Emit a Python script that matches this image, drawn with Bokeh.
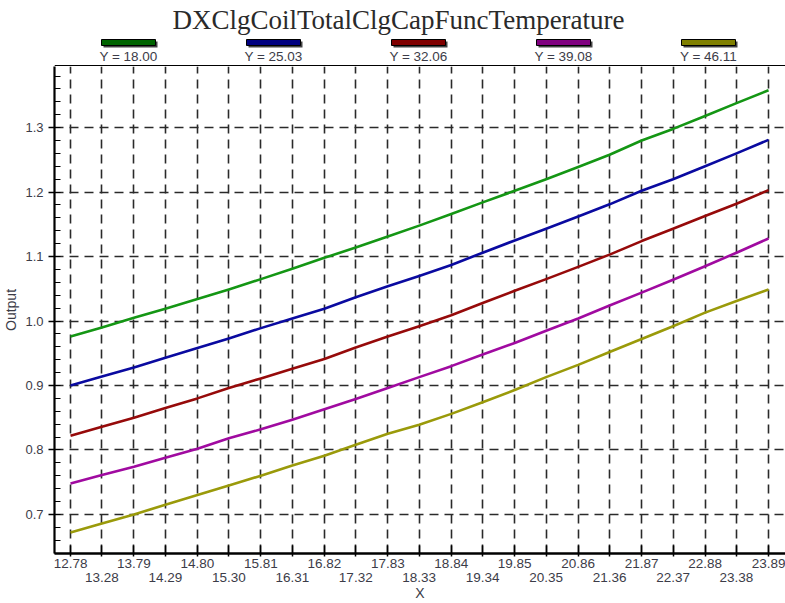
from bokeh.plotting import figure
from bokeh.layouts import column
from bokeh.models import Range1d, FixedTicker, LinearAxis, PrintfTickFormatter
from bokeh.core.properties import value
from bokeh.embed import file_html
from bokeh.resources import INLINE

# ---- data -------------------------------------------------------------
chart_title = "DXClgCoilTotalClgCapFuncTemperature"
series_names = ["Y = 18.00", "Y = 25.03", "Y = 32.06", "Y = 39.08", "Y = 46.11"]
line_colors = ["#149614", "#0a0aa0", "#960a0a", "#a00aa0", "#9a9a0a"]
swatch_colors = ["#006400", "#000080", "#800000", "#800080", "#808000"]

x_tick_labels = ["12.78", "13.28", "13.79", "14.29", "14.80", "15.30", "15.81",
                 "16.31", "16.82", "17.32", "17.83", "18.33", "18.84", "19.34",
                 "19.85", "20.35", "20.86", "21.36", "21.87", "22.37", "22.88",
                 "23.38", "23.89"]
y_ticks = [0.7, 0.8, 0.9, 1.0, 1.1, 1.2, 1.3]

# curve values at each x tick
x_vals = [float(s) for s in x_tick_labels]
y_18 = [0.976, 0.990, 1.005, 1.019, 1.034, 1.049, 1.065, 1.081, 1.098, 1.114, 1.131, 1.148,
        1.166, 1.184, 1.202, 1.220, 1.239, 1.258, 1.280, 1.298, 1.318, 1.338, 1.358]
y_25 = [0.900, 0.914, 0.928, 0.943, 0.958, 0.973, 0.989, 1.004, 1.019, 1.037, 1.054, 1.070,
        1.087, 1.106, 1.125, 1.143, 1.162, 1.181, 1.202, 1.220, 1.240, 1.260, 1.281]
y_32 = [0.822, 0.836, 0.850, 0.865, 0.880, 0.896, 0.911, 0.926, 0.941, 0.959, 0.976, 0.992,
        1.009, 1.028, 1.047, 1.065, 1.084, 1.103, 1.124, 1.143, 1.163, 1.182, 1.203]
y_39 = [0.748, 0.761, 0.774, 0.788, 0.802, 0.818, 0.832, 0.847, 0.863, 0.879, 0.896, 0.913,
        0.930, 0.948, 0.966, 0.985, 1.004, 1.024, 1.044, 1.064, 1.085, 1.106, 1.128]
y_46 = [0.672, 0.686, 0.700, 0.715, 0.730, 0.745, 0.760, 0.776, 0.791, 0.808, 0.825, 0.839,
        0.856, 0.874, 0.893, 0.913, 0.932, 0.952, 0.972, 0.992, 1.013, 1.031, 1.049]
series = [y_18, y_25, y_32, y_39, y_46]

SANS = "Liberation Sans"
LABEL_COLOR = "#3c3c48"
FRAME_LEFT = 54
CANVAS_W = 785

# ---- header: title and legend row -------------------------------------
header = figure(width=CANVAS_W, height=66, x_range=Range1d(FRAME_LEFT, CANVAS_W),
                y_range=Range1d(66, 0), x_axis_type=None, y_axis_type=None,
                output_backend="svg", toolbar_location=None, min_border=0,
                min_border_left=FRAME_LEFT)
header.grid.visible = False
header.outline_line_color = None

header.text(x=[398], y=[19], text=[chart_title], text_font=value("Liberation Serif"),
            text_font_size="27px", text_align="center", text_baseline="middle",
            text_color="#2a2a2a")

sw_x = [128 + 145 * i for i in range(len(series_names))]
header.rect(x=[v + 2 for v in sw_x], y=[44] * len(sw_x), width=54, height=6,
            fill_color="#444444", line_color=None)
header.rect(x=sw_x, y=[42] * len(sw_x), width=54, height=6,
            fill_color=swatch_colors, line_color="black", line_width=1)
header.text(x=sw_x, y=[55.5] * len(sw_x), text=series_names, text_font=value(SANS),
            text_font_size="13.5px", text_align="center", text_baseline="middle",
            text_color=LABEL_COLOR)
header.segment(x0=[FRAME_LEFT], y0=[65.2], x1=[CANVAS_W], y1=[65.2],
               line_color="black", line_width=1.6)

# ---- main plot ----------------------------------------------------------
even_ticks = x_vals[0::2]
odd_ticks = x_vals[1::2]

p = figure(width=CANVAS_W, height=537, x_range=Range1d(12.525, 24.16),
           y_range=Range1d(0.6394, 1.3948), output_backend="svg",
           toolbar_location=None, min_border_left=FRAME_LEFT, min_border_top=0,
           min_border_right=0, min_border_bottom=0)
p.outline_line_color = None
p.background_fill_color = "white"

for ys, col in zip(series, line_colors):
    p.line(x_vals, ys, line_color=col, line_width=2.6, line_join="round")

# bottom axis: ticks at every position, labels on the first row
xa = p.xaxis[0]
xa.ticker = FixedTicker(ticks=even_ticks, minor_ticks=odd_ticks)
xa.formatter = PrintfTickFormatter(format="%.2f")
xa.axis_line_color = "black"
xa.axis_line_width = 2.4
xa.major_tick_line_color = "black"
xa.minor_tick_line_color = "black"
xa.major_tick_line_width = 1.5
xa.minor_tick_line_width = 1.5
xa.major_tick_in = 8
xa.major_tick_out = 3
xa.minor_tick_in = 8
xa.minor_tick_out = 3
xa.major_label_standoff = 2
xa.major_label_text_font = SANS
xa.major_label_text_font_size = "13.5px"
xa.major_label_text_color = LABEL_COLOR

# second label row for the alternate ticks, carrying the axis title
xb = LinearAxis(ticker=FixedTicker(ticks=odd_ticks, minor_ticks=[]),
                formatter=PrintfTickFormatter(format="%.2f"),
                axis_line_color=None, major_tick_line_color=None,
                minor_tick_line_color=None, major_tick_in=0, major_tick_out=0,
                major_label_standoff=2, major_label_text_font=SANS,
                major_label_text_font_size="13.5px", major_label_text_color=LABEL_COLOR,
                axis_label="X", axis_label_standoff=0, axis_label_text_font=SANS,
                axis_label_text_font_size="14px", axis_label_text_font_style="normal",
                axis_label_text_color=LABEL_COLOR)
p.add_layout(xb, "below")

ya = p.yaxis[0]
ya.ticker = FixedTicker(ticks=y_ticks,
                        minor_ticks=[round(0.64 + 0.02 * i, 2) for i in range(38)])
ya.formatter = PrintfTickFormatter(format="%.1f")
ya.axis_line_color = "black"
ya.axis_line_width = 2.2
ya.major_tick_line_color = "black"
ya.minor_tick_line_color = "black"
ya.major_tick_line_width = 1.5
ya.minor_tick_line_width = 1.2
ya.major_tick_in = 0
ya.major_tick_out = 6
ya.minor_tick_in = 6
ya.minor_tick_out = 0
ya.major_label_standoff = 5
ya.major_label_text_font = SANS
ya.major_label_text_font_size = "13px"
ya.major_label_text_color = LABEL_COLOR
ya.axis_label = "Output"
ya.axis_label_standoff = 3
ya.axis_label_text_font = SANS
ya.axis_label_text_font_size = "14px"
ya.axis_label_text_font_style = "normal"
ya.axis_label_text_color = LABEL_COLOR

p.xgrid.ticker = FixedTicker(ticks=x_vals)
p.ygrid.ticker = FixedTicker(ticks=y_ticks)
for g in (p.xgrid, p.ygrid):
    g.grid_line_color = "#2a2a2a"
    g.grid_line_width = 1.6
    g.grid_line_dash = "9 6"

layout = column(header, p, spacing=0)
open("out.html", "w").write(file_html(layout, INLINE))
